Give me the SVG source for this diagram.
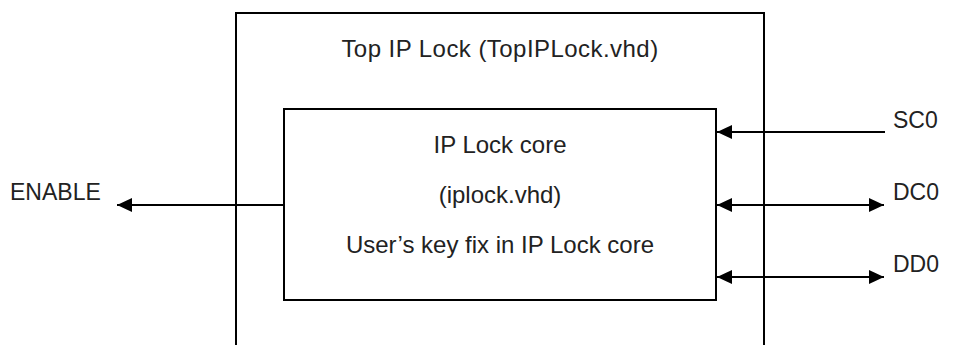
<svg xmlns="http://www.w3.org/2000/svg" width="954" height="345" viewBox="0 0 954 345">
  <style>
    .box { fill: none; stroke: #000; stroke-width: 2; }
    .wire { fill: none; stroke: #000; stroke-width: 2; }
    .lbl { font-family: "Liberation Sans", Arial, sans-serif; font-size: 24px; fill: #222; }
    .title { letter-spacing: 0.45px; }
    .port { font-size: 23px; }
    .mid { text-anchor: middle; }
  </style>
  <defs>
    <marker id="arrow" viewBox="0 0 15 14" refX="15" refY="7" markerWidth="15" markerHeight="14" markerUnits="userSpaceOnUse" orient="auto-start-reverse">
      <path d="M0,0 L15,7 L0,14 Z" fill="#000"/>
    </marker>
  </defs>
  <rect width="954" height="345" fill="#fff"/>

  <!-- Outer wrapper entity, open at the bottom -->
  <g id="top-ip-lock">
    <path class="box" d="M236,350 V13 H764 V350"/>
    <text class="lbl title mid" x="500" y="57">Top IP Lock (TopIPLock.vhd)</text>
  </g>

  <!-- Inner core entity -->
  <g id="ip-lock-core">
    <rect class="box" x="284" y="109" width="432" height="191"/>
    <text class="lbl mid" x="500" y="153">IP Lock core</text>
    <text class="lbl mid" x="500" y="203">(iplock.vhd)</text>
    <text class="lbl mid" x="500" y="253">User’s key fix in IP Lock core</text>
  </g>

  <!-- Port labels -->
  <g id="port-enable"><text class="lbl port" x="10" y="200">ENABLE</text></g>
  <g id="port-sc0"><text class="lbl port" x="893" y="128">SC0</text></g>
  <g id="port-dc0"><text class="lbl port" x="893" y="200">DC0</text></g>
  <g id="port-dd0"><text class="lbl port" x="893" y="272">DD0</text></g>

  <!-- Signal connectors -->
  <g id="connectors">
    <line class="wire" x1="284" y1="205" x2="117" y2="205" marker-end="url(#arrow)"/>
    <line class="wire" x1="885" y1="132" x2="717" y2="132" marker-end="url(#arrow)"/>
    <line class="wire" x1="717" y1="205" x2="884" y2="205" marker-start="url(#arrow)" marker-end="url(#arrow)"/>
    <line class="wire" x1="717" y1="277" x2="884" y2="277" marker-start="url(#arrow)" marker-end="url(#arrow)"/>
  </g>
</svg>
